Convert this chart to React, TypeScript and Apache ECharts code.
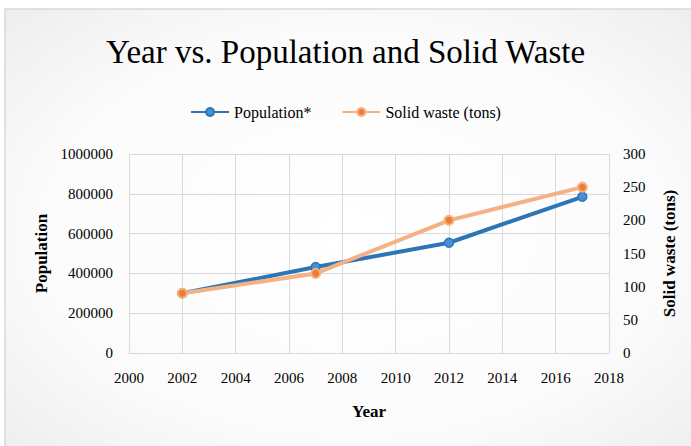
import React, { useEffect, useRef } from "react";
import * as echarts from "echarts";

const years = [2002, 2007, 2012, 2017];
const population = [300000, 432000, 554000, 785000];
const solidWaste = [90, 120, 200, 250];

const FONT = "'Liberation Serif', 'Times New Roman', serif";
const plain = (v: number) => String(v);

export default function App() {
  const ref = useRef<HTMLDivElement>(null);
  useEffect(() => {
    if (!ref.current) return;
    const chart = echarts.init(ref.current, null, { renderer: "svg" });
    chart.setOption({
      animation: false,
      backgroundColor: "#ffffff",
      graphic: [
        {
          type: "rect",
          shape: { x: 5, y: 9, width: 700, height: 450 },
          style: {
            fill: new echarts.graphic.RadialGradient(0.5, 0.5, 0.75, [
              { offset: 0, color: "#ffffff" },
              { offset: 0.6, color: "#fbfbfb" },
              { offset: 1, color: "#ebebeb" },
            ]),
            stroke: "#d9d9d9",
            lineWidth: 1.5,
          },
          z: -10,
          silent: true,
        },
      ],
      title: {
        text: "Year vs. Population and Solid Waste",
        left: "center",
        top: 30,
        textStyle: {
          fontFamily: FONT,
          fontSize: 33,
          fontWeight: "normal",
          color: "#000000",
        },
      },
      legend: {
        top: 99,
        left: "center",
        itemWidth: 38,
        itemHeight: 10,
        itemGap: 30,
        textStyle: { fontFamily: FONT, fontSize: 16, color: "#000" },
        data: [
          { name: "Population*" },
          { name: "Solid waste (tons)" },
        ],
      },
      grid: { left: 129, right: 82, top: 154, bottom: 93 },
      xAxis: {
        type: "value",
        min: 2000,
        max: 2018,
        interval: 2,
        name: "Year",
        nameLocation: "middle",
        nameGap: 50,
        nameTextStyle: { fontFamily: FONT, fontSize: 17, fontWeight: "bold", color: "#000" },
        axisLine: { show: false },
        axisTick: { show: false },
        axisLabel: { fontFamily: FONT, fontSize: 15, color: "#000", margin: 17, formatter: plain },
        splitLine: { show: true, lineStyle: { color: "#d9d9d9", width: 1 } },
      },
      yAxis: [
        {
          type: "value",
          min: 0,
          max: 1000000,
          interval: 200000,
          name: "Population",
          nameLocation: "middle",
          nameGap: 78,
          nameTextStyle: { fontFamily: FONT, fontSize: 17, fontWeight: "bold", color: "#000" },
          axisLine: { show: false },
          axisTick: { show: false },
          axisLabel: { fontFamily: FONT, fontSize: 15, color: "#000", margin: 16, formatter: plain },
          splitLine: { show: true, lineStyle: { color: "#d9d9d9", width: 1 } },
        },
        {
          type: "value",
          min: 0,
          max: 300,
          interval: 50,
          name: "Solid waste (tons)",
          nameLocation: "middle",
          nameGap: 52,
          nameRotate: 90,
          nameTextStyle: { fontFamily: FONT, fontSize: 17, fontWeight: "bold", color: "#000" },
          axisLine: { show: false },
          axisTick: { show: false },
          axisLabel: { fontFamily: FONT, fontSize: 15, color: "#000", margin: 14, formatter: plain },
          splitLine: { show: false },
        },
      ],
      series: [
        {
          name: "Population*",
          type: "line",
          yAxisIndex: 0,
          data: years.map((y, i) => [y, population[i]]),
          symbol: "circle",
          symbolSize: 9,
          lineStyle: { color: "#2e75b6", width: 4 },
          itemStyle: { color: "#4a8fd6", borderColor: "#2e75b6", borderWidth: 1.5 },
          z: 2,
        },
        {
          name: "Solid waste (tons)",
          type: "line",
          yAxisIndex: 1,
          data: years.map((y, i) => [y, solidWaste[i]]),
          symbol: "circle",
          symbolSize: 9,
          lineStyle: { color: "#f4b183", width: 4 },
          itemStyle: { color: "#ed7d31", borderColor: "#f4b183", borderWidth: 2 },
          z: 3,
        },
      ],
    });
    return () => chart.dispose();
  }, []);
  return (
    <div
      ref={ref}
      style={{ position: "absolute", left: 0, top: 0, width: 691, height: 446 }}
    />
  );
}
